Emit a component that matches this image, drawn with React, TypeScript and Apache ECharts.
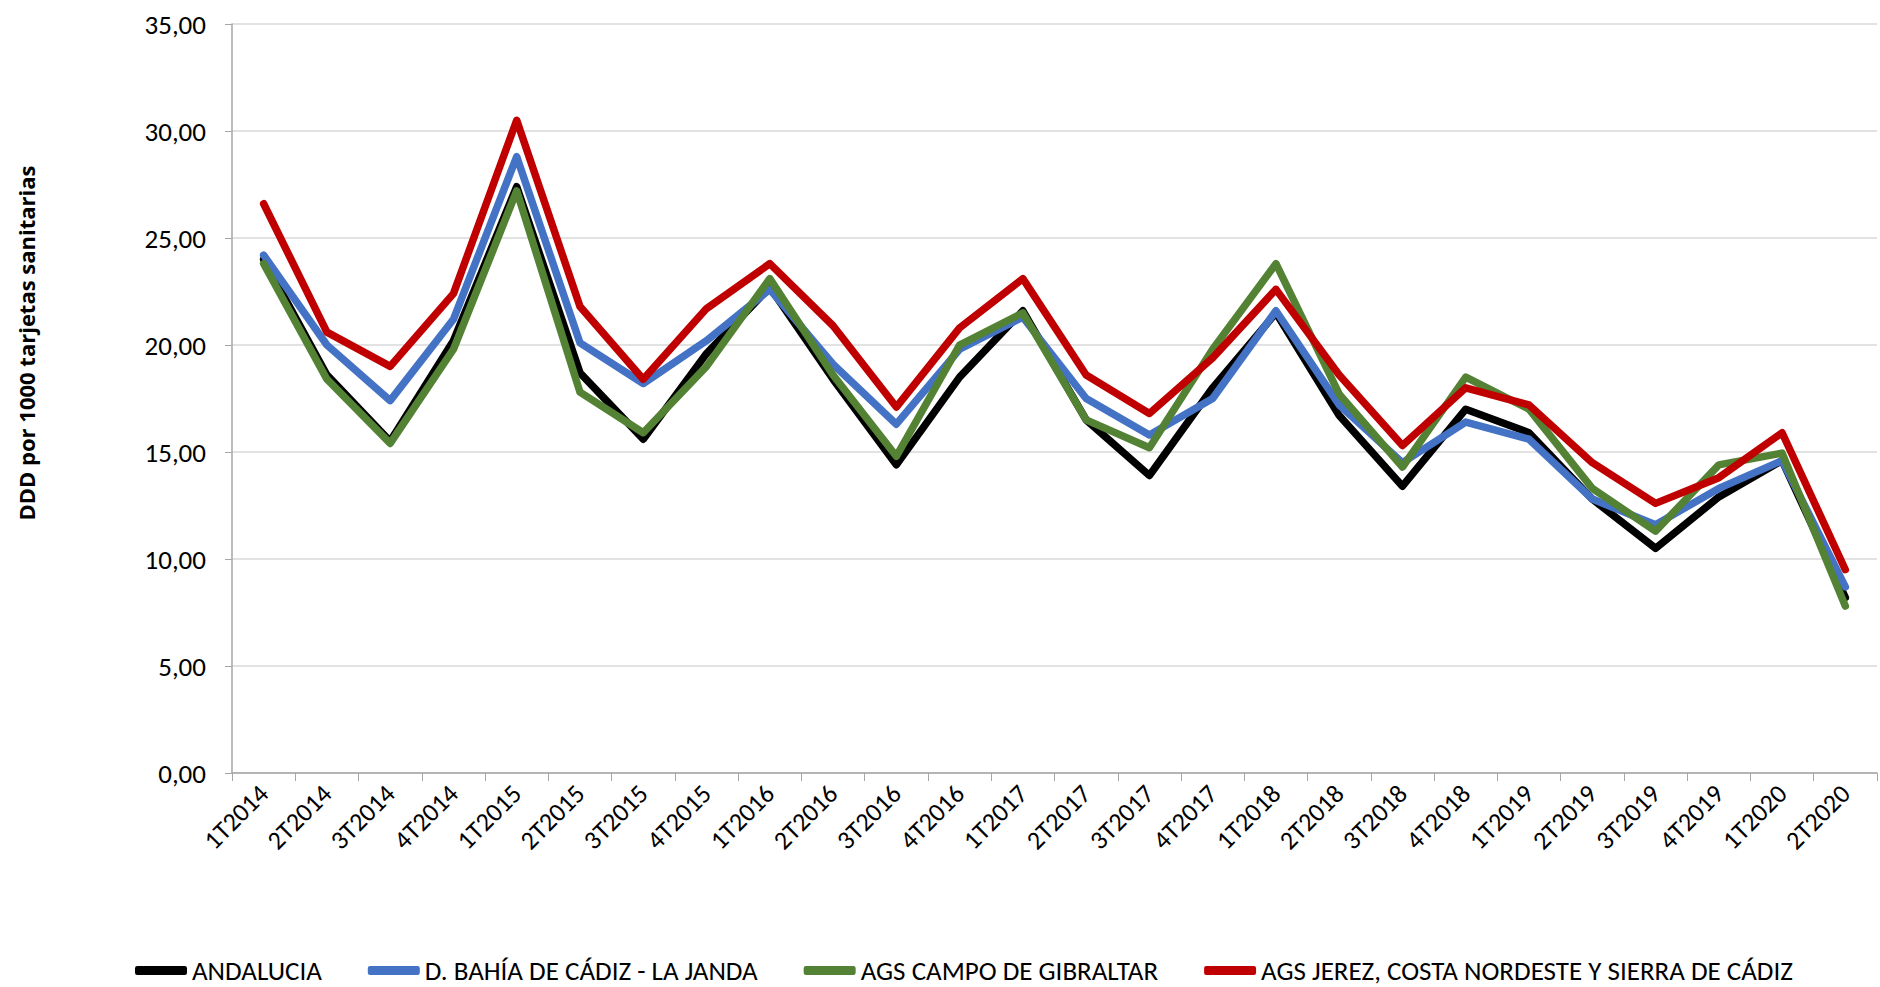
import React, { useEffect, useRef } from "react";
import * as echarts from "echarts";

const categories = [
  "1T2014", "2T2014", "3T2014", "4T2014",
  "1T2015", "2T2015", "3T2015", "4T2015",
  "1T2016", "2T2016", "3T2016", "4T2016",
  "1T2017", "2T2017", "3T2017", "4T2017",
  "1T2018", "2T2018", "3T2018", "4T2018",
  "1T2019", "2T2019", "3T2019", "4T2019",
  "1T2020", "2T2020",
];

const andalucia = [24.0, 18.6, 15.5, 20.2, 27.4, 18.7, 15.6, 19.6, 22.7, 18.4, 14.4, 18.5, 21.6, 16.5, 13.9, 18.0, 21.5, 16.7, 13.4, 17.0, 15.9, 12.8, 10.5, 12.9, 14.6, 8.2];
const bahia = [24.2, 20.0, 17.4, 21.2, 28.8, 20.1, 18.2, 20.2, 22.6, 19.1, 16.3, 19.8, 21.3, 17.5, 15.8, 17.5, 21.6, 17.2, 14.5, 16.4, 15.6, 12.8, 11.6, 13.3, 14.6, 8.7];
const campo = [23.8, 18.4, 15.4, 19.8, 27.2, 17.8, 15.9, 19.0, 23.1, 18.6, 14.8, 20.0, 21.5, 16.5, 15.2, 19.8, 23.8, 17.7, 14.3, 18.5, 17.0, 13.3, 11.3, 14.4, 14.95, 7.8];
const jerez = [26.6, 20.6, 19.0, 22.4, 30.5, 21.8, 18.4, 21.7, 23.8, 20.9, 17.1, 20.8, 23.1, 18.6, 16.8, 19.4, 22.6, 18.6, 15.3, 18.0, 17.2, 14.5, 12.6, 13.8, 15.9, 9.5];

const seriesNames = [
  "ANDALUCIA",
  "D. BAHÍA DE CÁDIZ - LA JANDA",
  "AGS CAMPO DE GIBRALTAR",
  "AGS JEREZ, COSTA NORDESTE Y SIERRA DE CÁDIZ",
];
const seriesData = [andalucia, bahia, campo, jerez];
const seriesColors = ["#000000", "#4472C4", "#548235", "#C00000"];

const yAxisTitle = "DDD por 1000 tarjetas sanitarias";
const FONT = "Carlito, 'Liberation Sans', Arial, sans-serif";

export default function App() {
  const ref = useRef<HTMLDivElement>(null);
  useEffect(() => {
    if (!ref.current) return;
    const chart = echarts.init(ref.current, null, { renderer: "svg" });
    chart.setOption({
      animation: false,
      backgroundColor: "#ffffff",
      textStyle: { fontFamily: FONT },
      grid: { left: 232, top: 24, right: 3, bottom: 214, containLabel: false },
      graphic: [
        {
          type: "text",
          x: 26,
          y: 343,
          rotation: Math.PI / 2,
          style: {
            text: yAxisTitle,
            fontSize: 22,
            fontWeight: "bold",
            fontFamily: "'Open Sans', 'DejaVu Sans', sans-serif",
            fill: "#000000",
            align: "center",
            verticalAlign: "middle",
          },
        },
      ],
      legend: {
        top: 952,
        left: 130,
        icon: "roundRect",
        itemWidth: 52,
        itemHeight: 9,
        itemGap: 46,
        textStyle: { fontSize: 27, color: "#000000", fontFamily: FONT },
        data: seriesNames,
      },
      xAxis: {
        type: "category",
        data: categories,
        boundaryGap: true,
        axisLine: { lineStyle: { color: "#a6a6a6", width: 1.5 } },
        axisTick: { show: true, alignWithLabel: false, length: 8, lineStyle: { color: "#a6a6a6" } },
        axisLabel: { rotate: 45, fontSize: 26, color: "#000000", margin: 16, interval: 0, fontFamily: FONT },
        splitLine: { show: false },
      },
      yAxis: {
        type: "value",
        min: 0,
        max: 35,
        interval: 5,
        axisLine: { show: true, lineStyle: { color: "#a6a6a6", width: 1.5 } },
        axisTick: { show: true, length: 7, lineStyle: { color: "#a6a6a6" } },
        axisLabel: {
          fontSize: 27,
          color: "#000000",
          margin: 26,
          fontFamily: FONT,
          formatter: (v: number) => v.toFixed(2).replace(".", ","),
        },
        splitLine: { show: true, lineStyle: { color: "#d9d9d9", width: 1.5 } },
      },
      series: seriesNames.map((name, i) => ({
        name,
        type: "line",
        data: seriesData[i],
        symbol: "none",
        color: seriesColors[i],
        lineStyle: { color: seriesColors[i], width: 7.5, cap: "round", join: "round" },
      })),
    });
    return () => chart.dispose();
  }, []);
  return (
    <div
      ref={ref}
      style={{ position: "fixed", left: 0, top: 0, width: 1880, height: 987, background: "#fff" }}
    />
  );
}
